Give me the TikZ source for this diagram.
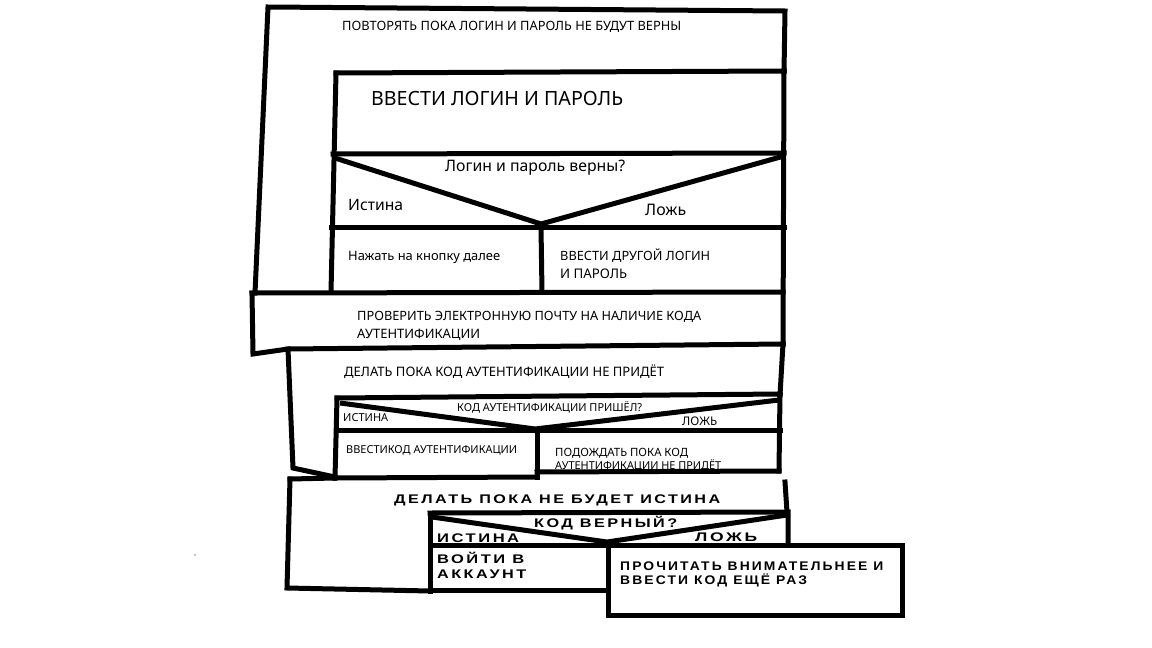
\documentclass[tikz,border=0pt]{standalone}
\usepackage{fontspec}
\usepackage{graphicx}
\setmainfont{Noto Sans}
\newfontfamily\widefont{Liberation Sans}[LetterSpace=15]
\newcommand{\fitw}[2]{\resizebox{#1pt}{!}{#2}}
\newcommand{\fitx}[2]{\resizebox{#1pt}{\height}{#2}}
\begin{document}
\begin{tikzpicture}[x=1pt,y=-1pt,
  ln/.style={line width=5pt, line cap=rect, line join=miter},
  dg/.style={line width=5pt, line cap=butt, line join=miter},
  lbl/.style={inner sep=0pt, anchor=base west},
  wlbl/.style={inner sep=0pt, anchor=base west, font=\widefont\bfseries\fontsize{12.5pt}{13pt}\selectfont}]
\useasboundingbox (0,0) rectangle (1152,648);
\fill[white] (0,0) rectangle (1152,648);
% ---------- loop 1 ----------
\draw[ln] (255,293) -- (268,7) -- (785,11) -- (784,72);
\draw[ln] (336,73) -- (784,71);
\draw[ln] (336,73) -- (331,292);
\draw[ln] (333,154) -- (784,153);
\draw[dg] (335,158) -- (541,224) -- (784,156);
\draw[ln] (331,227) -- (784,227);
\draw[ln] (541,227) -- (542,292);
\draw[ln] (784,71) -- (783,344);
% ---------- check mail ----------
\draw[ln] (252,293) -- (783,292);
\draw[ln] (252,293) -- (253,354) -- (288,349) -- (783,344);
% ---------- loop 2 ----------
\draw[ln] (288,349) -- (293,468) -- (335,477);
\draw[ln] (783,344) -- (780,395);
\draw[ln] (337,398) -- (780,394);
\draw[ln] (337,398) -- (335,478);
\draw[dg] (340,403) -- (535,429) -- (779,400);
\draw[ln] (337,430) -- (780,430);
\draw[ln] (780,394) -- (779,471);
\draw[ln] (537,430) -- (537,477);
\draw[ln] (335,478) -- (537,477);
\draw[ln] (537,472) -- (779,471);
% ---------- loop 3 ----------
\draw[ln] (290,479) -- (335,478);
\draw[ln] (290,479) -- (287,588) -- (430,591);
\draw[ln] (785,482) -- (787,512);
\draw[ln] (430,513) -- (788,512) -- (788,543);
\draw[ln] (430,513) -- (430,591);
\draw[dg] (432,517) -- (607,542) -- (787,515);
\draw[ln] (430,545) -- (608,545);
\draw[ln] (430,590) -- (608,590);
\draw[ln] (608,545) rectangle (902,615);
\fill (195,555) circle (0.6);
% ---------- texts ----------
\node[lbl] (t1) at (342,30) {\fitw{339}{ПОВТОРЯТЬ ПОКА ЛОГИН И ПАРОЛЬ НЕ БУДУТ ВЕРНЫ}};
\node[lbl] (t2) at (371,105) {\fitw{252}{ВВЕСТИ ЛОГИН И ПАРОЛЬ}};
\node[lbl] (t3) at (445,171) {\fitw{180}{Логин и пароль верны?}};
\node[lbl] (t4) at (348,210) {\fitw{55}{Истина}};
\node[lbl] (t5) at (645,215) {\fitw{41}{Ложь}};
\node[lbl] (t6) at (348,260) {\fitw{152}{Нажать на кнопку далее}};
\node[lbl] (t7) at (560,260) {\fitw{150}{ВВЕСТИ ДРУГОЙ ЛОГИН}};
\node[lbl] (t8) at (560,278) {\fitw{67}{И ПАРОЛЬ}};
\node[lbl] (t9) at (357,320) {\fitw{344}{ПРОВЕРИТЬ ЭЛЕКТРОННУЮ ПОЧТУ НА НАЛИЧИЕ КОДА}};
\node[lbl] (t10) at (357,338) {\fitw{123}{АУТЕНТИФИКАЦИИ}};
\node[lbl] (t11) at (344,376) {\fitw{320}{ДЕЛАТЬ ПОКА КОД АУТЕНТИФИКАЦИИ НЕ ПРИДЁТ}};
\node[lbl] (t12) at (457,411) {\fitw{185}{КОД АУТЕНТИФИКАЦИИ ПРИШЁЛ?}};
\node[lbl] (t13) at (343,421) {\fitw{45}{ИСТИНА}};
\node[lbl] (t14) at (682,425) {\fitw{35}{ЛОЖЬ}};
\node[lbl] (t15) at (346,453) {\fitw{171}{ВВЕСТИКОД АУТЕНТИФИКАЦИИ}};
\node[lbl] (t16) at (555,456) {\fitw{133}{ПОДОЖДАТЬ ПОКА КОД}};
\node[lbl] (t17) at (555,469) {\fitw{166}{АУТЕНТИФИКАЦИИ НЕ ПРИДЁТ}};
\node[wlbl] (t18) at (394,503) {\fitx{326}{ДЕЛАТЬ ПОКА НЕ БУДЕТ ИСТИНА}};
\node[wlbl] (t19) at (534,527) {\fitx{143}{КОД ВЕРНЫЙ?}};
\node[wlbl] (t20) at (437,542) {\fitx{82}{ИСТИНА}};
\node[wlbl] (t21) at (695,541) {\fitx{62}{ЛОЖЬ}};
\node[wlbl] (t22) at (437,563) {\fitx{87}{ВОЙТИ В}};
\node[wlbl] (t23) at (437,578) {\fitx{89}{АККАУНТ}};
\node[wlbl] (t24) at (620,570) {\fitx{263}{ПРОЧИТАТЬ ВНИМАТЕЛЬНЕЕ И}};
\node[wlbl] (t25) at (620,584) {\fitx{187}{ВВЕСТИ КОД ЕЩЁ РАЗ}};
\end{tikzpicture}
\end{document}
